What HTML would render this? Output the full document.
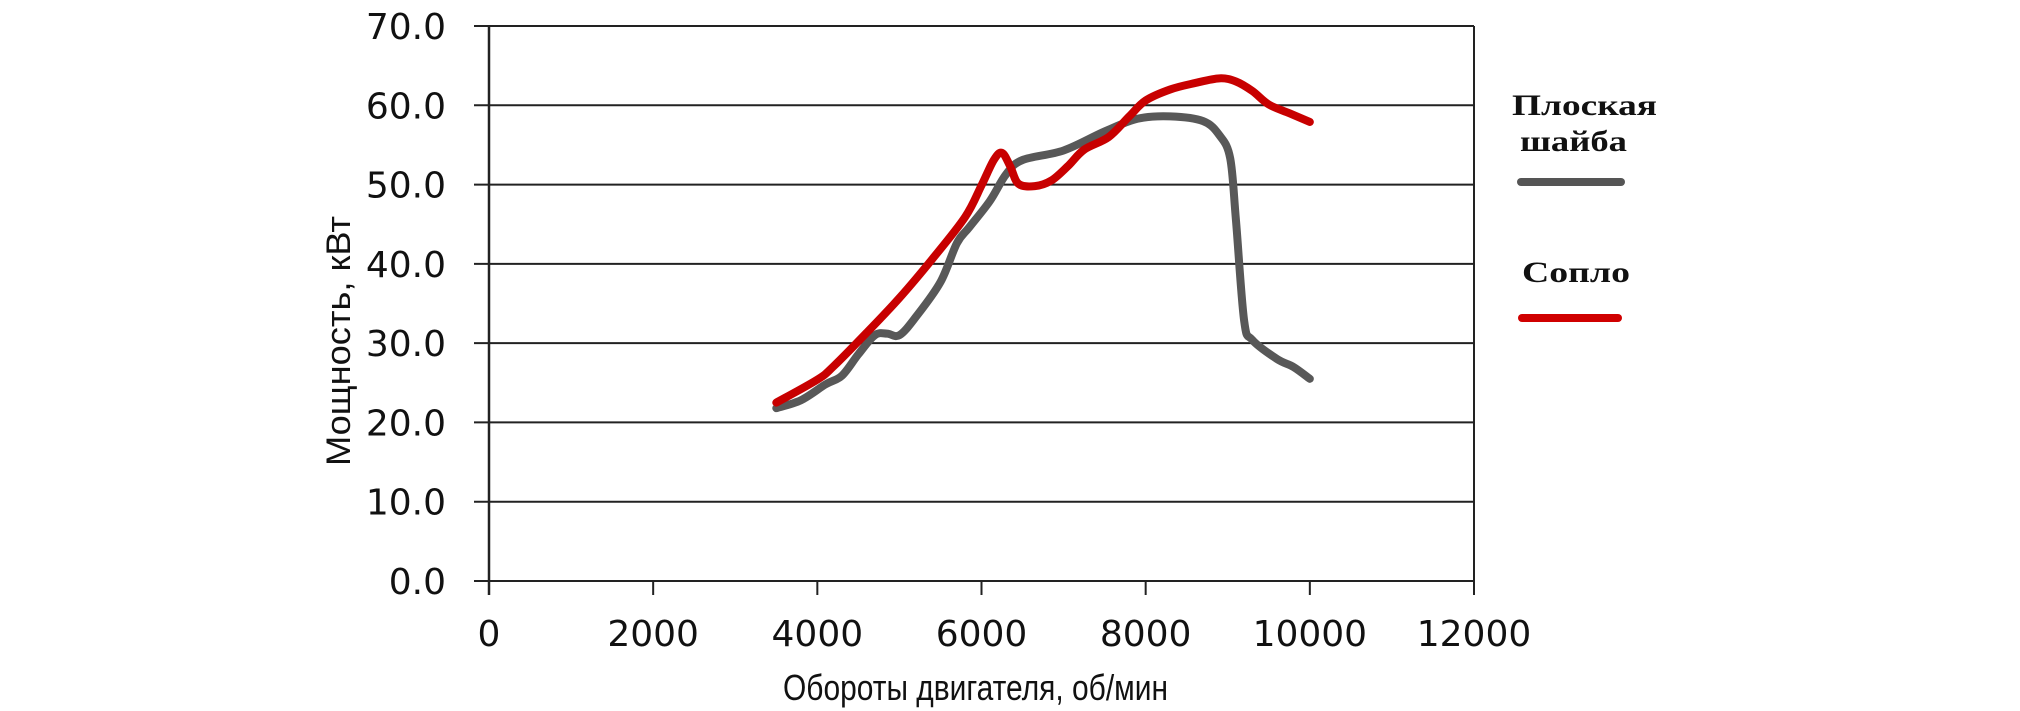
<!DOCTYPE html>
<html><head><meta charset="utf-8"><style>
html,body{margin:0;padding:0;background:#fff;}
svg{display:block;}
</style></head><body>
<svg id="chart" width="2020" height="711" viewBox="0 0 2020 711" xmlns="http://www.w3.org/2000/svg">
<g id="grid"></g>
<g id="axes"></g>
<g id="series"></g>
<text x="350" y="341" transform="rotate(-90 350 341)" text-anchor="middle" font-family="Liberation Sans, sans-serif" font-size="34" textLength="250" lengthAdjust="spacingAndGlyphs" fill="#111">Мощность, кВт</text>
<text x="783" y="700" font-family="Liberation Sans, sans-serif" font-size="36" textLength="385" lengthAdjust="spacingAndGlyphs" fill="#111">Обороты двигателя, об/мин</text>
<g>
<text x="1512" y="115" font-family="Liberation Serif, serif" font-weight="bold" font-size="30" textLength="145" lengthAdjust="spacingAndGlyphs" fill="#111">Плоская</text>
<text x="1520" y="151" font-family="Liberation Serif, serif" font-weight="bold" font-size="30" textLength="107" lengthAdjust="spacingAndGlyphs" fill="#111">шайба</text>
<line x1="1521" y1="182" x2="1621" y2="182" stroke="#555" stroke-width="8" stroke-linecap="round"/>
<text x="1522" y="282" font-family="Liberation Serif, serif" font-weight="bold" font-size="30" textLength="108" lengthAdjust="spacingAndGlyphs" fill="#111">Сопло</text>
<line x1="1522" y1="318" x2="1618" y2="318" stroke="#d00000" stroke-width="8" stroke-linecap="round"/>
</g>
</svg>
<script>
const yTicks = [0,10,20,30,40,50,60,70];
const yTickLabels = ["0.0","10.0","20.0","30.0","40.0","50.0","60.0","70.0"];
const xTicks = [0,2000,4000,6000,8000,10000,12000];
const xTickLabels = ["0","2000","4000","6000","8000","10000","12000"];
const grayRpm = [3500,3800,4100,4300,4500,4700,4850,5000,5200,5500,5700,5850,6100,6300,6500,7000,7500,7900,8300,8700,8900,9030,9100,9200,9300,9600,9800,10000];
const grayPower = [21.8,22.8,24.8,25.9,28.6,31,31.2,31,33.3,37.7,42.6,44.6,47.9,51.3,53.1,54.3,56.7,58.3,58.6,58,56.2,53.3,45.5,32.8,30.4,28,27,25.5];
const redRpm = [3500,4000,4200,4600,5000,5400,5800,6000,6150,6250,6350,6450,6650,6850,7050,7250,7550,7800,8000,8300,8600,8900,9100,9300,9500,9750,10000];
const redPower = [22.5,25.4,27.1,31.3,35.7,40.6,45.9,49.9,53.1,54,52.3,50.1,49.8,50.5,52.3,54.4,56,58.6,60.6,62,62.8,63.4,63,61.8,60.1,59,57.9];

const X0=489,X1=1474,Y0=581,Y1=26;
const xs=v=>X0+(v-0)/12000*(X1-X0);
const ys=v=>Y0-(v-0)/70*(Y0-Y1);
const NS="http://www.w3.org/2000/svg";
function mk(tag,attrs,parent){const e=document.createElementNS(NS,tag);for(const k in attrs)e.setAttribute(k,attrs[k]);parent.appendChild(e);return e;}
const grid=document.getElementById('grid'),axes=document.getElementById('axes'),series=document.getElementById('series');
yTicks.forEach((t,i)=>{
  const l=mk('line',{x1:474,x2:X1,y1:ys(t),y2:ys(t),stroke:'#222','stroke-width':2},grid);
  
  
  const tx=mk('text',{x:446,y:ys(t)+13,'text-anchor':'end','font-family':'DejaVu Sans, Liberation Sans, sans-serif','font-size':36,fill:'#111'},axes);
  tx.textContent=yTickLabels[i];
  
  
});
const ya=mk('line',{x1:X0,x2:X0,y1:Y1,y2:Y0+14,stroke:'#222','stroke-width':2.5},axes);


const ra=mk('line',{x1:X1,x2:X1,y1:Y1,y2:Y0+14,stroke:'#222','stroke-width':2},axes);


xTicks.forEach((t,i)=>{
  const l=mk('line',{x1:xs(t),x2:xs(t),y1:Y0,y2:Y0+14,stroke:'#222','stroke-width':2},axes);
  
  
  const tx=mk('text',{x:xs(t),y:646,'text-anchor':'middle','font-family':'DejaVu Sans, Liberation Sans, sans-serif','font-size':36,fill:'#111'},axes);
  tx.textContent=xTickLabels[i];
  
  
});
function smooth(xv,yv){
  const p=xv.map((x,i)=>[xs(x),ys(yv[i])]);
  let d=`M${p[0][0]},${p[0][1]}`;
  for(let i=0;i<p.length-1;i++){
    const a=p[Math.max(0,i-1)],b=p[i],c=p[i+1],e=p[Math.min(p.length-1,i+2)];
    d+=` C${b[0]+(c[0]-a[0])/6},${b[1]+(c[1]-a[1])/6} ${c[0]-(e[0]-b[0])/6},${c[1]-(e[1]-b[1])/6} ${c[0]},${c[1]}`;
  }
  return d;
}
const g=mk('path',{d:smooth(grayRpm,grayPower),fill:'none',stroke:'#585858','stroke-width':8,'stroke-linecap':'round','stroke-linejoin':'round'},series);


const r=mk('path',{d:smooth(redRpm,redPower),fill:'none',stroke:'#c80000','stroke-width':8,'stroke-linecap':'round','stroke-linejoin':'round'},series);


</script>
</body></html>
